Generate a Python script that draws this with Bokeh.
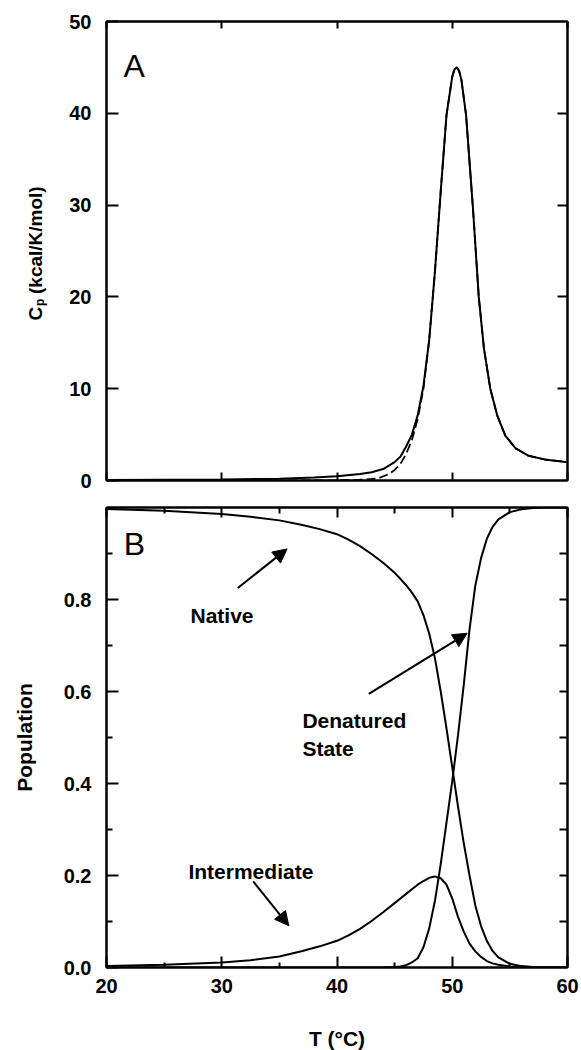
import math
from bokeh.plotting import figure
from bokeh.layouts import column, row
from bokeh.models import (LinearAxis, FixedTicker, Range1d, Label, Arrow,
                          NormalHead, PrintfTickFormatter)
from bokeh.embed import file_html
from bokeh.resources import INLINE

# ---------------- data ----------------
# Panel A: excess heat capacity
cp_temp = [20, 25, 30, 35, 38, 40, 42, 43, 44, 45, 45.5, 46, 46.5, 47, 47.5, 48,
           48.5, 49, 49.5, 50, 50.2, 50.4, 50.6, 50.8, 51.2, 51.8, 52.3, 52.75,
           53.3, 53.9, 54.6, 55.5, 56.6, 58, 60]
cp_solid = [0.05, 0.08, 0.12, 0.2, 0.32, 0.45, 0.7, 0.9, 1.25, 2.0, 2.6, 3.7,
            5.0, 7.1, 10.3, 15.3, 22.8, 31.5, 39.8, 44.0, 44.8, 45.0, 44.6,
            43.6, 39.8, 29.6, 20.0, 14.4, 10.0, 7.1, 4.9, 3.5, 2.7, 2.3, 2.0]
cp_dash_temp = [20, 40, 42, 43, 43.6, 44.5, 45, 45.5, 46, 46.5, 47, 47.5, 48,
                48.5, 49, 49.5, 50, 50.2, 50.4, 50.6, 50.8, 51.2, 51.8, 52.3,
                52.75, 53.3, 53.9, 54.6, 55.5, 56.6, 58, 60]
cp_dashed = [0.0, 0.02, 0.08, 0.17, 0.25, 0.7, 1.15, 1.8, 2.9, 4.4, 6.7, 10.0,
             15.3, 22.8, 31.5, 39.8, 44.0, 44.8, 45.0, 44.6, 43.6, 39.8, 29.6,
             20.0, 14.4, 10.0, 7.1, 4.9, 3.5, 2.7, 2.3, 2.0]

# Panel B: populations
pop_temp = [20, 25, 30, 32.5, 35, 37, 38.5, 40, 41, 42, 43, 44, 45, 45.5, 46,
            46.5, 47, 47.5, 48, 48.5, 49, 49.5, 50, 50.5, 51, 51.5, 52, 52.5,
            53, 53.5, 54, 55, 56, 57, 58, 60]
pop_native = [0.997, 0.993, 0.986, 0.98, 0.972, 0.962, 0.953, 0.942, 0.930,
              0.916, 0.899, 0.880, 0.858, 0.845, 0.831, 0.815, 0.796, 0.766,
              0.726, 0.672, 0.60, 0.52, 0.435, 0.35, 0.27, 0.20, 0.135, 0.09,
              0.058, 0.036, 0.022, 0.008, 0.003, 0.001, 0.0, 0.0]
pop_intermediate = [0.003, 0.006, 0.011, 0.016, 0.024, 0.036, 0.046, 0.058,
                    0.070, 0.084, 0.101, 0.12, 0.14, 0.15, 0.16, 0.17, 0.18,
                    0.188, 0.195, 0.198, 0.194, 0.18, 0.15, 0.11, 0.078, 0.052,
                    0.035, 0.023, 0.014, 0.009, 0.006, 0.002, 0.001, 0.0, 0.0,
                    0.0]
pop_denatured = [0.0, 0.0, 0.0, 0.0, 0.0, 0.0, 0.0, 0.0, 0.0, 0.0, 0.0, 0.0,
                 0.001, 0.002, 0.005, 0.011, 0.02, 0.044, 0.085, 0.145, 0.225,
                 0.315, 0.405, 0.505, 0.615, 0.735, 0.83, 0.89, 0.932, 0.958,
                 0.974, 0.99, 0.996, 0.999, 1.0, 1.0]

x_ticks = [20, 30, 40, 50, 60]
x_minor = [25, 35, 45, 55]
cp_ticks = [0, 10, 20, 30, 40, 50]
cp_right_ticks = [10, 20, 30, 40]
pop_ticks = [0.0, 0.2, 0.4, 0.6, 0.8]
pop_minor = [0.1, 0.3, 0.5, 0.7, 0.9]
pop_right_ticks = [0.1, 0.2, 0.3, 0.4, 0.5, 0.6, 0.7, 0.8, 0.9]

FONT = "Liberation Sans"


def style_axis(ax, ticks, minor, tin, min_in, show_labels, size="20px"):
    ax.ticker = FixedTicker(ticks=ticks, minor_ticks=minor)
    ax.axis_line_width = 2
    ax.axis_line_color = "black"
    ax.major_tick_line_width = 2
    ax.minor_tick_line_width = 2
    ax.major_tick_line_color = "black"
    ax.minor_tick_line_color = "black"
    ax.major_tick_in = tin
    ax.major_tick_out = 0
    ax.minor_tick_in = min_in
    ax.minor_tick_out = 0
    ax.major_label_text_font = FONT
    ax.major_label_text_font_style = "bold"
    if show_labels:
        ax.major_label_text_color = "black"
        ax.major_label_text_font_size = size
    else:
        ax.major_label_text_color = None
        ax.major_label_text_font_size = "0px"
        ax.major_label_standoff = 0


# ---------------- y-axis title of panel A (own little canvas) ----------------
LAB_W = 50
pL = figure(frame_width=LAB_W, frame_height=493,
            x_range=Range1d(0, LAB_W), y_range=Range1d(0, 493),
            min_border=0, x_axis_location=None, y_axis_location=None,
            output_backend="svg", toolbar_location=None)
pL.grid.visible = False
pL.outline_line_color = None
pL.background_fill_color = "white"
pL.border_fill_color = "white"
for txt, lx, ly, fs in [("C", 35, 194, "19px"),
                        ("p", 39.5, 208.5, "12px"),
                        ("(kcal/K/mol)", 35, 220.5, "19px")]:
    pL.add_layout(Label(x=lx, y=ly, text=txt, angle=math.pi / 2,
                        text_font=FONT, text_font_style="bold",
                        text_font_size=fs, text_align="left",
                        text_baseline="alphabetic", text_color="black"))

# ---------------- Panel A ----------------
pA = figure(frame_width=461, frame_height=459,
            x_range=Range1d(20, 60), y_range=Range1d(0, 50),
            min_border_left=106 - LAB_W, min_border_right=14,
            min_border_top=21, min_border_bottom=13,
            output_backend="svg", toolbar_location=None)
pA.grid.visible = False
pA.outline_line_color = "black"
pA.outline_line_width = 2
pA.background_fill_color = "white"
pA.border_fill_color = "white"

style_axis(pA.xaxis[0], x_ticks, [], 8, 0, False)
style_axis(pA.yaxis[0], cp_ticks, [], 12, 0, True)
pA.yaxis[0].major_label_standoff = 15
axA_r = LinearAxis()
style_axis(axA_r, cp_right_ticks, [], 10, 0, False)
pA.add_layout(axA_r, "right")
axA_t = LinearAxis()
style_axis(axA_t, x_ticks, [], 7, 0, False)
pA.add_layout(axA_t, "above")

pA.line(cp_temp, cp_solid, line_color="black", line_width=2)
pA.line(cp_dash_temp, cp_dashed, line_color="black", line_width=1.8,
        line_dash="9 4")

pA.add_layout(Label(x=21.47, y=45.1, text="A", text_font=FONT,
                    text_font_size="32px", text_color="black",
                    text_baseline="alphabetic", text_align="left"))

# ---------------- Panel B ----------------
pB = figure(frame_width=461, frame_height=460,
            x_range=Range1d(20, 60), y_range=Range1d(0, 1),
            min_border_left=106, min_border_right=14,
            min_border_top=14, min_border_bottom=83,
            output_backend="svg", toolbar_location=None)
pB.grid.visible = False
pB.outline_line_color = "black"
pB.outline_line_width = 2
pB.background_fill_color = "white"
pB.border_fill_color = "white"

style_axis(pB.xaxis[0], x_ticks, x_minor, 11, 5, True)
pB.xaxis[0].major_label_standoff = 11
pB.xaxis[0].axis_label = "T (°C)"
pB.xaxis[0].axis_label_text_font = FONT
pB.xaxis[0].axis_label_text_font_style = "bold"
pB.xaxis[0].axis_label_text_font_size = "21px"
pB.xaxis[0].axis_label_text_color = "black"
pB.xaxis[0].axis_label_standoff = 31

style_axis(pB.yaxis[0], pop_ticks, pop_minor, 12, 6, True)
pB.yaxis[0].formatter = PrintfTickFormatter(format="%.1f")
pB.yaxis[0].major_label_standoff = 15
pB.yaxis[0].axis_label = "Population"
pB.yaxis[0].axis_label_text_font = FONT
pB.yaxis[0].axis_label_text_font_style = "bold"
pB.yaxis[0].axis_label_text_font_size = "21px"
pB.yaxis[0].axis_label_text_color = "black"
pB.yaxis[0].axis_label_standoff = 25

axB_r = LinearAxis()
style_axis(axB_r, pop_right_ticks, [], 8, 0, False)
pB.add_layout(axB_r, "right")
axB_t = LinearAxis()
style_axis(axB_t, x_ticks, x_minor, 10, 6, False)
pB.add_layout(axB_t, "above")

pB.line(pop_temp, pop_native, line_color="black", line_width=2)
pB.line(pop_temp, pop_intermediate, line_color="black", line_width=2)
pB.line(pop_temp, pop_denatured, line_color="black", line_width=2)

pB.add_layout(Label(x=21.5, y=0.921, text="B", text_font=FONT,
                    text_font_size="32px", text_color="black",
                    text_baseline="alphabetic", text_align="left"))


def note(x, y, text):
    pB.add_layout(Label(x=x, y=y, text=text, text_font=FONT,
                        text_font_style="bold", text_font_size="21px",
                        text_color="black", text_baseline="alphabetic",
                        text_align="left"))


def arrow(x0, y0, x1, y1):
    pB.add_layout(Arrow(end=NormalHead(size=14, fill_color="black",
                                       line_color="black", line_width=1),
                        x_start=x0, y_start=y0, x_end=x1, y_end=y1,
                        line_color="black", line_width=2))


note(27.29, 0.765, "Native")
arrow(31.39, 0.825, 35.67, 0.910)
note(37.0, 0.538, "Denatured")
note(37.0, 0.477, "State")
arrow(42.76, 0.595, 51.29, 0.7265)
note(27.11, 0.2087, "Intermediate")
arrow(32.73, 0.187, 35.82, 0.0907)

layout = column(row(pL, pA, spacing=0), pB, spacing=0)
open("out.html", "w").write(file_html(layout, INLINE))
